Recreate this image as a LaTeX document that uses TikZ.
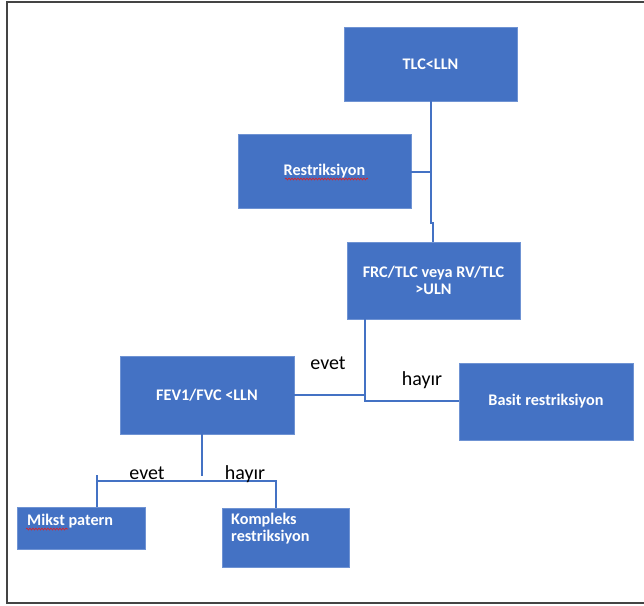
\documentclass[tikz,border=0pt]{standalone}
\usepackage{fontspec}
\setmainfont{Carlito}
\usetikzlibrary{decorations.pathmorphing}
\definecolor{boxblue}{HTML}{4472C4}
\definecolor{boxedge}{HTML}{6F93D3}
\definecolor{linkblue}{HTML}{4472C4}
\definecolor{framegray}{HTML}{444444}
\definecolor{squiggle}{HTML}{E02020}
\tikzset{
  box/.style={draw=boxedge, line width=0.8pt, fill=boxblue, rectangle, inner sep=0pt,
    text=white, font=\bfseries\fontsize{16.2}{17}\selectfont, align=center},
  boxtext/.style={text=white, font=\bfseries\fontsize{16.2}{16.8}\selectfont, align=left, inner sep=0pt},
  link/.style={draw=linkblue, line width=1.3pt},
  answer/.style={font=\fontsize{20}{22}\selectfont, text=black, inner sep=0pt, anchor=base},
  spellmark/.style={draw=squiggle, line width=0.6pt,
    decorate, decoration={snake, amplitude=1pt, segment length=3pt}}
}
\begin{document}
\begin{tikzpicture}[x=1pt, y=-1pt]
\useasboundingbox (0,0) rectangle (644,605);
% open frame, cut off on the right
\draw[framegray, line width=1.5pt] (644,2) -- (7,2) -- (7,603) -- (644,603);

% decision boxes
\node[box, minimum width=173pt, minimum height=74pt] (tlc) at (430.5,64) {TLC<LLN};
\node[box, minimum width=173pt, minimum height=74pt] (restr) at (324.5,171) {Restriksiyon};
\node[box, minimum width=173pt, minimum height=77pt] (frc) at (433.5,280.5) {FRC/TLC veya RV/TLC\\>ULN};
\node[box, minimum width=174pt, minimum height=78pt] (fev) at (207,395) {FEV1/FVC <LLN};
\node[box, minimum width=174pt, minimum height=77pt] (basit) at (546,401.5) {Basit restriksiyon};
\node[box, minimum width=128pt, minimum height=42pt] (mikst) at (81,528) {};
\node[box, minimum width=127pt, minimum height=59pt] (komp) at (285.5,537.5) {};

% top-left aligned texts of the two outcome boxes
\node[boxtext, anchor=base west] (mikstlbl) at (27,525) {Mikst patern};
\node[boxtext, anchor=base west] (komplbl) at (231,541.7) {Kompleks\\restriksiyon};

% spell-check marks
\coordinate (sq1a) at (285,179);
\coordinate (sq1b) at (368,179);
\draw[spellmark] (sq1a) -- (sq1b);
\coordinate (sq2a) at (26,529);
\coordinate (sq2b) at (68,529);
\draw[spellmark] (sq2a) -- (sq2b);

% connectors
\coordinate (jogA) at (431,223);
\coordinate (jogB) at (433,223);
\coordinate (restrJoin) at (431,172);
\draw[link] (tlc.south -| jogA) -- (jogA) -- (jogB) -- (frc.north -| jogB);
\draw[link] (restr.east |- restrJoin) -- (restrJoin);

\coordinate (frcFoot) at (365,401);
\coordinate (fevJoin) at (365,395);
\draw[link] (frc.south -| frcFoot) -- (frcFoot) -- (basit.west |- frcFoot);
\draw[link] (fev.east |- fevJoin) -- (fevJoin);

\coordinate (fevFoot) at (202,476);
\coordinate (barL) at (97,481);
\coordinate (barR) at (276,481);
\coordinate (tickL) at (97,475);
\draw[link] (fev.south -| fevFoot) -- (fevFoot);
\draw[link] (barL) -- (barR) -- (komp.north -| barR);
\draw[link] (tickL) -- (mikst.north -| tickL);

% branch labels
\node[answer] (evet1) at (328,369) {evet};
\node[answer] (hayir1) at (422,385) {hayır};
\node[answer] (evet2) at (147,479) {evet};
\node[answer] (hayir2) at (245,479) {hayır};
\end{tikzpicture}
\end{document}
